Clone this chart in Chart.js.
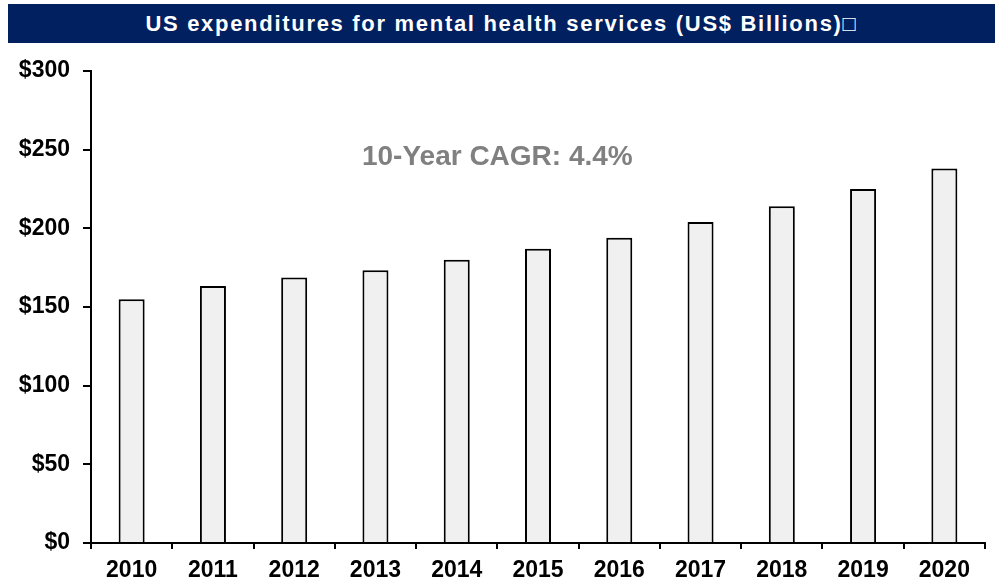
<!DOCTYPE html>
<html>
<head>
<meta charset="utf-8">
<script src="https://cdn.jsdelivr.net/npm/chart.js@4"></script>
<style>
  html, body { margin: 0; padding: 0; background: #fff; }
  #wrap { position: relative; width: 1001px; height: 584px; }
  #titulo {
    position: absolute; left: 8px; top: 4px; width: 987px; height: 39px;
    background: #002060; color: #fff;
    font: bold 22px "Liberation Sans", Arial, sans-serif;
    letter-spacing: 1.7px;
    line-height: 39px; text-align: center;
  }
  canvas { position: absolute; left: 0; top: 0; }
</style>
</head>
<body>
<div id="wrap">
  <canvas id="grafica" width="1001" height="584"></canvas>
  <div id="titulo">US expenditures for mental health services (US$ Billions)&#x25A1;</div>
</div>
<script>
const years = ["2010", "2011", "2012", "2013", "2014", "2015", "2016", "2017", "2018", "2019", "2020"];
const gasto = [155, 163.4, 168.7, 173.3, 180, 187, 194, 204, 214, 225, 238];
const yTicks = [0, 50, 100, 150, 200, 250, 300];

const fuente = "'Liberation Sans', Arial, sans-serif";

// CAGR calculado con el primer y ultimo anio
const cagr = Math.pow(gasto[gasto.length - 1] / gasto[0], 1 / (gasto.length - 1)) - 1;
const textoCagr = `10-Year CAGR: ${(cagr * 100).toFixed(1)}%`;

const etiquetaCagr = {
  id: "etiquetaCagr",
  afterDatasetsDraw(chart) {
    const { ctx, scales } = chart;
    const x = scales.x.getPixelForValue(4.5);
    const y = scales.y.getPixelForValue(245);
    ctx.save();
    ctx.font = `bold 28px ${fuente}`;
    ctx.fillStyle = "#808080";
    ctx.textAlign = "center";
    ctx.textBaseline = "middle";
    ctx.fillText(textoCagr, x, y);
    ctx.restore();
  }
};

new Chart(document.getElementById("grafica").getContext("2d"), {
  type: "bar",
  data: {
    labels: years,
    datasets: [{
      data: gasto,
      backgroundColor: "#f0f0f0",
      borderColor: "#000",
      borderWidth: 2,
      categoryPercentage: 1,
      barPercentage: 0.32
    }]
  },
  options: {
    responsive: false,
    animation: false,
    layout: { padding: { top: 71, right: 16, left: 0, bottom: 0 } },
    plugins: { legend: { display: false }, tooltip: { enabled: false } },
    scales: {
      x: {
        afterFit: (s) => { s.height = 41; },
        border: { color: "#000", width: 2 },
        grid: { drawOnChartArea: false, color: "#000", lineWidth: 2, tickLength: 6 },
        ticks: { color: "#000", padding: 8, font: { family: fuente, size: 23, weight: "bold" } }
      },
      y: {
        min: 0,
        max: 300,
        afterFit: (s) => { s.width = 91; },
        afterBuildTicks: (s) => { s.ticks = yTicks.map(v => ({ value: v })); },
        border: { color: "#000", width: 2 },
        grid: { drawOnChartArea: false, color: "#000", lineWidth: 2, tickLength: 8 },
        ticks: {
          color: "#000",
          padding: 13,
          font: { family: fuente, size: 23, weight: "bold" },
          callback: (v) => "$" + v
        }
      }
    }
  },
  plugins: [etiquetaCagr]
});
</script>
</body>
</html>
